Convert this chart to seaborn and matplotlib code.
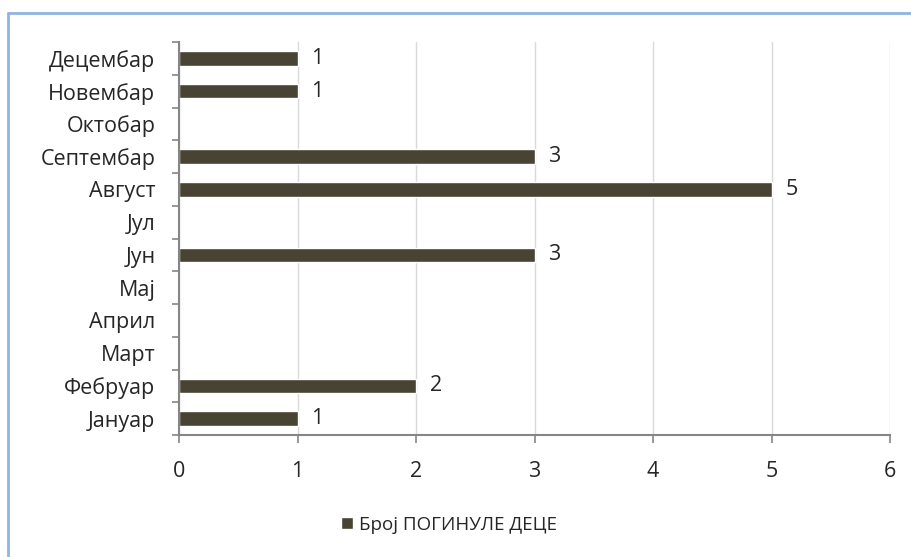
import pandas as pd
import numpy as np
import matplotlib.pyplot as plt
import seaborn as sns
from matplotlib.lines import Line2D
from matplotlib.ticker import FixedLocator

# Data
months = ["Јануар", "Фебруар", "Март", "Април", "Мај", "Јун",
          "Јул", "Август", "Септембар", "Октобар", "Новембар", "Децембар"]
deaths = [1, 2, 0, 0, 0, 3, 0, 5, 3, 0, 1, 1]
series_name = "Број ПОГИНУЛЕ ДЕЦЕ"

df = pd.DataFrame({"Месец": months, "Број": deaths, "Серија": series_name})

sns.set_style("white")
plt.rcParams['font.family'] = ['Open Sans', 'DejaVu Sans']

fig = plt.figure(figsize=(9.12, 5.57), dpi=100)
ax = fig.add_axes([0.1963, 0.219, 0.7796, 0.7056])

bar_color = "#4B4530"
sns.barplot(data=df, x="Број", y="Месец", hue="Серија", order=months[::-1],
            palette=[bar_color], orient="h", width=0.44, dodge=False, ax=ax)

# value labels only on non-zero bars
for cont in ax.containers:
    labels = [f"{int(v)}" if v > 0 else "" for v in cont.datavalues]
    ax.bar_label(cont, labels=labels, padding=10, fontsize=15.5)

ax.set_xlim(0, 6)
ax.set_ylim(len(months) - 0.5, -0.5)
ax.set_xticks(range(0, 7))
ax.set_xlabel("")
ax.set_ylabel("")

# ticks between categories like the original
ax.yaxis.set_minor_locator(FixedLocator(np.arange(-0.5, len(months), 1)))
ax.tick_params(axis="y", which="major", length=0, pad=17, labelsize=15.5)
ax.tick_params(axis="y", which="minor", length=5, width=1.2, color="#868686", direction="out", left=True)
ax.tick_params(axis="x", length=6, width=1.2, color="#868686", direction="out", pad=13, labelsize=15.5, bottom=True)

ax.grid(axis="x", color="#D9D9D9", linewidth=1)
ax.set_axisbelow(True)
sns.despine(ax=ax, top=True, right=True)
for side in ["left", "bottom"]:
    ax.spines[side].set_color("#868686")
    ax.spines[side].set_linewidth(1.5)

sns.move_legend(ax, "center", bbox_to_anchor=(0.38, -0.228), frameon=False, title=None,
                fontsize=13.5, handlelength=0.65, handleheight=0.65, handletextpad=0.3)

# light blue chart frame (top and left edges visible)
fig.add_artist(Line2D([0.0088, 1.0], [0.977, 0.977], color="#8EB4E3", linewidth=2, transform=fig.transFigure))
fig.add_artist(Line2D([0.0088, 0.0088], [0.0, 0.977], color="#8EB4E3", linewidth=2, transform=fig.transFigure))

plt.savefig("out.png", dpi=100)
